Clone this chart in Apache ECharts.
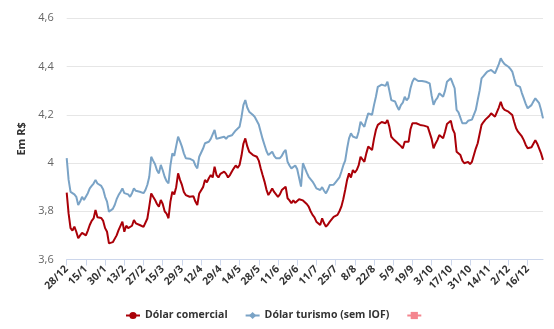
<!DOCTYPE html>
<html>
<head>
<meta charset="utf-8">
<script src="https://cdn.jsdelivr.net/npm/echarts@6/dist/echarts.min.js"></script>
<style>
html,body{margin:0;padding:0;background:#fff;}
#chart{width:554px;height:329px;}
</style>
</head>
<body>
<div id="chart"></div>
<script>
// Tick labels shown every 10 trading days
var tickLabels = ['28/12','15/1','30/1','13/2','27/2','15/3','29/3','12/4','29/4','14/5','28/5','11/6','26/6','11/7','25/7','8/8','22/8','5/9','19/9','3/10','17/10','31/10','14/11','2/12','16/12'];

var comercial = [
3.877,3.79,3.73,3.72,3.736,3.715,3.688,3.70,3.71,3.716,
3.70,3.72,3.743,3.76,3.77,3.805,3.775,3.771,3.772,3.76,
3.73,3.715,3.667,3.665,3.672,3.674,3.70,3.722,3.73,3.757,
3.715,3.74,3.73,3.722,3.74,3.764,3.75,3.745,3.743,3.74,
3.735,3.743,3.77,3.82,3.874,3.86,3.847,3.83,3.819,3.847,
3.83,3.80,3.79,3.771,3.84,3.881,3.87,3.90,3.957,3.93,
3.909,3.88,3.867,3.87,3.86,3.854,3.862,3.84,3.826,3.874,
3.87,3.90,3.93,3.92,3.937,3.95,3.94,3.985,3.95,3.94,
3.955,3.95,3.964,3.955,3.94,3.95,3.965,3.978,3.99,3.98,
3.992,4.03,4.08,4.102,4.07,4.047,4.047,4.033,4.04,4.026,
4.01,3.978,3.95,3.923,3.89,3.867,3.88,3.895,3.88,3.875,
3.86,3.87,3.888,3.895,3.902,3.854,3.845,3.833,3.845,3.835,
3.84,3.85,3.854,3.845,3.85,3.83,3.819,3.80,3.785,3.775,
3.757,3.76,3.743,3.771,3.75,3.736,3.745,3.757,3.765,3.777,
3.785,3.785,3.80,3.819,3.85,3.888,3.93,3.957,3.94,3.971,
3.96,3.971,3.99,4.026,4.015,4.005,4.04,4.068,4.06,4.054,
4.10,4.137,4.158,4.165,4.17,4.178,4.165,4.178,4.15,4.109,
4.10,4.095,4.085,4.082,4.07,4.061,4.088,4.08,4.088,4.14,
4.165,4.171,4.165,4.16,4.158,4.16,4.155,4.158,4.15,4.15,
4.10,4.061,4.08,4.095,4.116,4.11,4.103,4.13,4.162,4.17,
4.175,4.14,4.123,4.047,4.04,4.033,4.01,3.999,3.992,4.005,
3.995,4.005,3.999,4.06,4.082,4.12,4.158,4.17,4.18,4.185,
4.195,4.206,4.20,4.192,4.20,4.23,4.254,4.23,4.22,4.225,
4.213,4.205,4.199,4.17,4.144,4.13,4.123,4.11,4.095,4.075,
4.061,4.061,4.065,4.08,4.095,4.08,4.075,4.04,4.013
];

var turismo = [
4.02,3.93,3.88,3.874,3.87,3.86,3.826,3.84,3.86,3.847,
3.855,3.875,3.895,3.905,3.915,3.93,3.915,3.909,3.905,3.89,
3.86,3.84,3.798,3.80,3.81,3.826,3.85,3.867,3.88,3.895,
3.875,3.881,3.87,3.86,3.875,3.895,3.885,3.88,3.881,3.885,
3.875,3.888,3.91,3.943,4.026,4.01,3.995,3.97,3.957,3.992,
3.97,3.943,3.925,3.916,3.99,4.04,4.03,4.07,4.109,4.09,
4.068,4.04,4.02,4.025,4.018,4.013,4.01,3.99,3.978,4.026,
4.03,4.06,4.082,4.075,4.088,4.10,4.095,4.137,4.10,4.095,
4.105,4.102,4.109,4.10,4.11,4.105,4.115,4.123,4.135,4.14,
4.15,4.19,4.24,4.261,4.23,4.213,4.205,4.199,4.19,4.185,
4.16,4.13,4.10,4.075,4.05,4.033,4.04,4.047,4.03,4.02,
4.013,4.02,4.03,4.045,4.054,4.005,3.99,3.978,3.985,3.99,
3.975,3.971,3.902,3.999,3.98,3.96,3.943,3.935,3.923,3.91,
3.895,3.89,3.888,3.90,3.885,3.874,3.89,3.909,3.905,3.91,
3.92,3.93,3.94,3.964,3.99,4.01,4.06,4.102,4.123,4.11,
4.11,4.103,4.13,4.171,4.16,4.15,4.18,4.206,4.20,4.20,
4.24,4.275,4.316,4.32,4.325,4.33,4.32,4.337,4.30,4.261,
4.26,4.255,4.235,4.22,4.24,4.25,4.275,4.26,4.27,4.31,
4.337,4.351,4.345,4.34,4.337,4.34,4.335,4.337,4.333,4.33,
4.28,4.241,4.26,4.27,4.289,4.296,4.275,4.30,4.337,4.345,
4.351,4.33,4.31,4.22,4.21,4.21,4.165,4.17,4.165,4.175,
4.17,4.18,4.175,4.22,4.261,4.30,4.351,4.36,4.37,4.379,
4.38,4.386,4.38,4.372,4.38,4.41,4.434,4.42,4.41,4.415,
4.399,4.39,4.379,4.35,4.323,4.32,4.316,4.29,4.268,4.245,
4.227,4.227,4.24,4.255,4.268,4.26,4.248,4.22,4.185
];

var seriesNames = ['Dólar comercial', 'Dólar turismo (sem IOF)', ' '];

var xIdx = comercial.map(function (_, i) { return String(i); });

var chart = echarts.init(document.getElementById('chart'), null, {renderer: 'canvas'});
var font = '"Open Sans", "Noto Sans", sans-serif';
chart.setOption({
  animation: false,
  backgroundColor: '#ffffff',
  textStyle: {fontFamily: font},
  grid: {left: 66.7, right: 11, top: 18.3, bottom: 69.5, containLabel: false},
  legend: {
    bottom: 3,
    left: 'center',
    itemWidth: 14,
    itemHeight: 9,
    itemGap: 17,
    textStyle: {fontFamily: font, fontSize: 10.5, fontWeight: 'bold', color: '#333333'},
    data: seriesNames
  },
  xAxis: {
    type: 'category',
    boundaryGap: false,
    data: xIdx,
    axisLine: {lineStyle: {color: '#ccd6eb', width: 1}},
    axisTick: {show: true, interval: 9, length: 6, lineStyle: {color: '#ccd6eb'}},
    axisLabel: {
      interval: 9,
      rotate: 45,
      margin: 8,
      color: '#333333',
      fontWeight: 'bold',
      fontSize: 10.5,
      fontFamily: font,
      formatter: function (v, idx) {
        var k = Math.round(idx / 10);
        return tickLabels[k] !== undefined ? tickLabels[k] : '';
      }
    },
    splitLine: {show: false}
  },
  yAxis: {
    type: 'value',
    min: 3.6,
    max: 4.6,
    interval: 0.2,
    name: 'Em R$',
    nameLocation: 'middle',
    nameGap: 36,
    nameRotate: 90,
    nameTextStyle: {color: '#333333', fontWeight: 'bold', fontSize: 11, fontFamily: font},
    axisLine: {show: false},
    axisTick: {show: false},
    axisLabel: {
      color: '#666666',
      fontSize: 11,
      margin: 13,
      fontFamily: font,
      formatter: function (v) {
        var s = (Math.round(v * 10) / 10).toString();
        return s.replace('.', ',');
      }
    },
    splitLine: {lineStyle: {color: '#e6e6e6', width: 1}}
  },
  series: [
    {
      name: seriesNames[0],
      type: 'line',
      data: comercial,
      symbol: 'circle',
      symbolSize: 7,
      showSymbol: false,
      lineStyle: {color: '#aa0008', width: 2},
      itemStyle: {color: '#aa0008'}
    },
    {
      name: seriesNames[1],
      type: 'line',
      data: turismo,
      symbol: 'diamond',
      symbolSize: 7,
      showSymbol: false,
      lineStyle: {color: '#7aa3c6', width: 2},
      itemStyle: {color: '#7aa3c6'}
    },
    {
      name: seriesNames[2],
      type: 'line',
      data: [],
      symbol: 'rect',
      lineStyle: {color: '#f4868f', width: 2},
      itemStyle: {color: '#f4868f'}
    }
  ]
});
</script>
</body>
</html>
